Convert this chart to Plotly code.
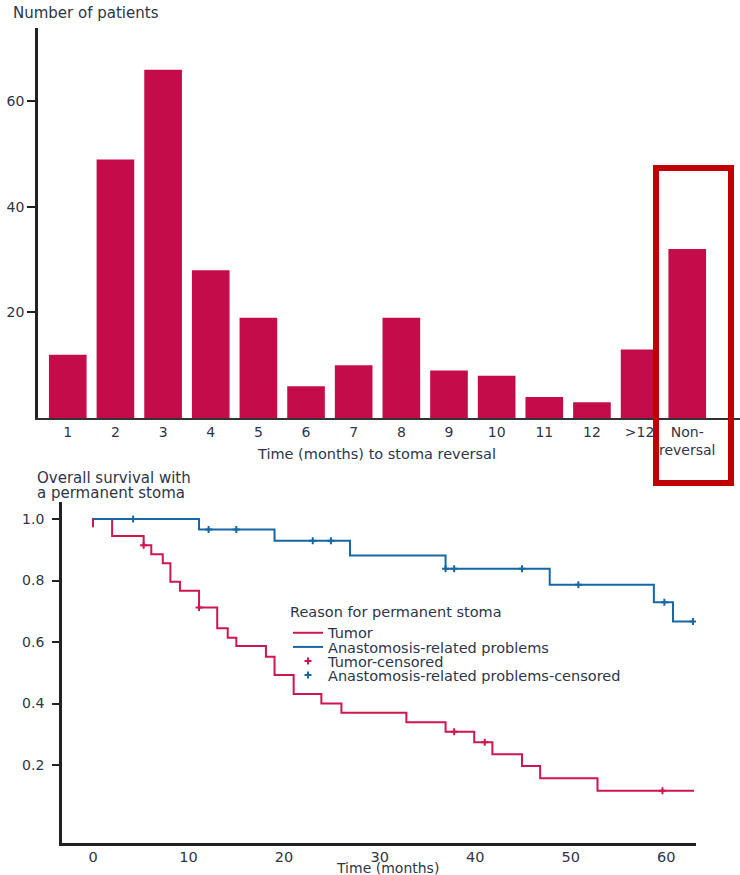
import plotly.graph_objects as go

W, H = 740, 875
FONT = "DejaVu Sans"
TXT = "#2e3548"
AX = "#222222"

# ---------------- Top chart data ----------------
categories = ["1", "2", "3", "4", "5", "6", "7", "8", "9", "10", "11", "12", ">12", "Non-reversal"]
category_labels = ["1", "2", "3", "4", "5", "6", "7", "8", "9", "10", "11", "12", ">12", "Non-<br>reversal"]
patients = [12, 49, 66, 28, 19, 6, 10, 19, 9, 8, 4, 3, 13, 32]
top_yticks = [20, 40, 60]

# ---------------- Kaplan-Meier data ----------------
tumor_time = [0, 0, 2.0, 5.3, 6.1, 7.3, 8.1, 9.1, 11.1, 13.0, 14.1, 15.0, 18.1, 19.0,
              21.0, 23.9, 26.0, 32.8, 36.9, 39.9, 41.8, 44.9, 46.8, 52.8, 62.9]
tumor_surv = [0.973, 1.0, 0.945, 0.915, 0.885, 0.856, 0.796, 0.767, 0.712, 0.645, 0.614,
              0.587, 0.552, 0.493, 0.431, 0.400, 0.370, 0.339, 0.308, 0.274, 0.235,
              0.197, 0.157, 0.116, 0.116]
tumor_cens_time = [5.3, 11.1, 37.8, 41.0, 59.6]
tumor_cens_surv = [0.915, 0.712, 0.308, 0.274, 0.116]

anast_time = [0, 11.1, 19.0, 26.9, 36.9, 47.8, 58.7, 60.7, 62.8]
anast_surv = [1.0, 0.966, 0.929, 0.881, 0.838, 0.786, 0.729, 0.667, 0.667]
anast_cens_time = [4.2, 12.1, 15.0, 23.0, 24.9, 36.9, 37.8, 44.9, 50.8, 59.8, 62.8]
anast_cens_surv = [1.0, 0.966, 0.966, 0.929, 0.929, 0.838, 0.838, 0.838, 0.786, 0.729, 0.667]

km_xticks = [0, 10, 20, 30, 40, 50, 60]
km_yticks = [0.2, 0.4, 0.6, 0.8, 1.0]

BAR = "#c40c4a"
RED = "#cf1650"
BLUE = "#1766a6"


def px(v):
    return v / W


def py(v):
    return 1 - v / H


fig = go.Figure()

fig.add_trace(go.Bar(x=categories, y=patients, marker=dict(color=BAR, line=dict(width=0)),
                     xaxis="x", yaxis="y", showlegend=False))

fig.add_trace(go.Scatter(x=tumor_time, y=tumor_surv, mode="lines", line_shape="hv",
                         line=dict(color=RED, width=2), name="Tumor",
                         xaxis="x2", yaxis="y2", legend="legend"))
fig.add_trace(go.Scatter(x=anast_time, y=anast_surv, mode="lines", line_shape="hv",
                         line=dict(color=BLUE, width=2), name="Anastomosis-related problems",
                         xaxis="x2", yaxis="y2", legend="legend2"))
fig.add_trace(go.Scatter(x=tumor_cens_time, y=tumor_cens_surv, mode="markers",
                         marker=dict(symbol="cross-thin", size=5, line=dict(color=RED, width=2)),
                         name="Tumor-censored", xaxis="x2", yaxis="y2", legend="legend3"))
fig.add_trace(go.Scatter(x=anast_cens_time, y=anast_cens_surv, mode="markers",
                         marker=dict(symbol="cross-thin", size=5, line=dict(color=BLUE, width=2)),
                         name="Anastomosis-related problems-censored",
                         xaxis="x2", yaxis="y2", legend="legend4"))

top_dom_y = [py(418), py(28)]
top_range_y = [0, 73.9]
bot_dom_y = [py(843.3), py(501.7)]
bot_range_y = [-0.0546, 1.0563]

leg_common = dict(xanchor="left", bgcolor="rgba(0,0,0,0)", borderwidth=0,
                  font=dict(family=FONT, size=14.5, color=TXT), itemwidth=30,
                  tracegroupgap=0)

fig.update_layout(
    width=W, height=H,
    margin=dict(l=0, r=0, t=0, b=0),
    paper_bgcolor="white", plot_bgcolor="white",
    bargap=0.21,
    font=dict(family=FONT, color=TXT),
    xaxis=dict(domain=[px(38), 1.0], anchor="y", type="category",
               range=[-0.625, 14.107], tickvals=categories, ticktext=category_labels,
               ticks="", showline=True, linecolor="#333333", linewidth=1.5,
               showgrid=False, zeroline=False,
               tickfont=dict(family=FONT, size=14, color=TXT)),
    yaxis=dict(domain=top_dom_y, anchor="x", range=top_range_y, tickvals=top_yticks,
               ticks="outside", ticklen=8, tickwidth=2, tickcolor=AX,
               showline=True, linecolor=AX, linewidth=2.5, showgrid=False, zeroline=False,
               tickfont=dict(family=FONT, size=14, color=TXT)),
    yaxis3=dict(domain=top_dom_y, anchor="x", overlaying="y", range=top_range_y,
                tickvals=top_yticks, ticks="inside", ticklen=9, tickwidth=2, tickcolor=AX,
                showticklabels=False, showline=False, showgrid=False, zeroline=False),
    xaxis2=dict(domain=[px(62), px(696)], anchor="y2", range=[-3.244, 63.11],
                tickvals=km_xticks, ticks="", showline=True, linecolor=AX, linewidth=2.7,
                showgrid=False, zeroline=False, ticklabelstandoff=-2,
                tickfont=dict(family=FONT, size=14.5, color=TXT)),
    yaxis2=dict(domain=bot_dom_y, anchor="x2", range=bot_range_y, tickvals=km_yticks,
                ticktext=["0.2", "0.4", "0.6", "0.8", "1.0"],
                ticks="outside", ticklen=7, tickwidth=2, tickcolor=AX, ticklabelstandoff=5,
                showline=True, linecolor=AX, linewidth=2.7, showgrid=False, zeroline=False,
                tickfont=dict(family=FONT, size=14, color=TXT)),
    yaxis4=dict(domain=bot_dom_y, anchor="x2", overlaying="y2", range=bot_range_y,
                tickvals=km_yticks, ticks="inside", ticklen=9, tickwidth=2, tickcolor=AX,
                showticklabels=False, showline=False, showgrid=False, zeroline=False),
    legend=dict(x=px(288), y=py(598), yanchor="top",
                title=dict(text="Reason for permanent stoma",
                           font=dict(family=FONT, size=14.5, color=TXT)),
                **leg_common),
    legend2=dict(x=px(288), y=py(647), yanchor="middle", **leg_common),
    legend3=dict(x=px(288), y=py(661), yanchor="middle", **leg_common),
    legend4=dict(x=px(288), y=py(675), yanchor="middle", **leg_common),
    annotations=[
        dict(text="Number of patients", x=px(11), y=py(13), xref="paper", yref="paper",
             xanchor="left", yanchor="middle", showarrow=False,
             font=dict(family=FONT, size=15, color=TXT)),
        dict(text="Time (months) to stoma reversal", x=px(376), y=py(454), xref="paper",
             yref="paper", xanchor="center", yanchor="middle", showarrow=False,
             font=dict(family=FONT, size=14.5, color=TXT)),
        dict(text="Overall survival with", x=px(35), y=py(478), xref="paper", yref="paper",
             xanchor="left", yanchor="middle", showarrow=False,
             font=dict(family=FONT, size=15, color=TXT)),
        dict(text="a permanent stoma", x=px(35), y=py(493), xref="paper", yref="paper",
             xanchor="left", yanchor="middle", showarrow=False,
             font=dict(family=FONT, size=15, color=TXT)),
        dict(text="Time (months)", x=px(387), y=py(868), xref="paper", yref="paper",
             xanchor="center", yanchor="middle", showarrow=False,
             font=dict(family=FONT, size=14, color=TXT)),
    ],
    shapes=[
        dict(type="rect", xref="paper", yref="paper",
             x0=px(656), x1=px(731), y0=py(483), y1=py(168),
             line=dict(color="#c00000", width=6), fillcolor="rgba(0,0,0,0)", layer="above"),
    ],
)

fig.write_html("out.html", config={"displayModeBar": False},
               post_script="document.body.style.margin='0px';")
